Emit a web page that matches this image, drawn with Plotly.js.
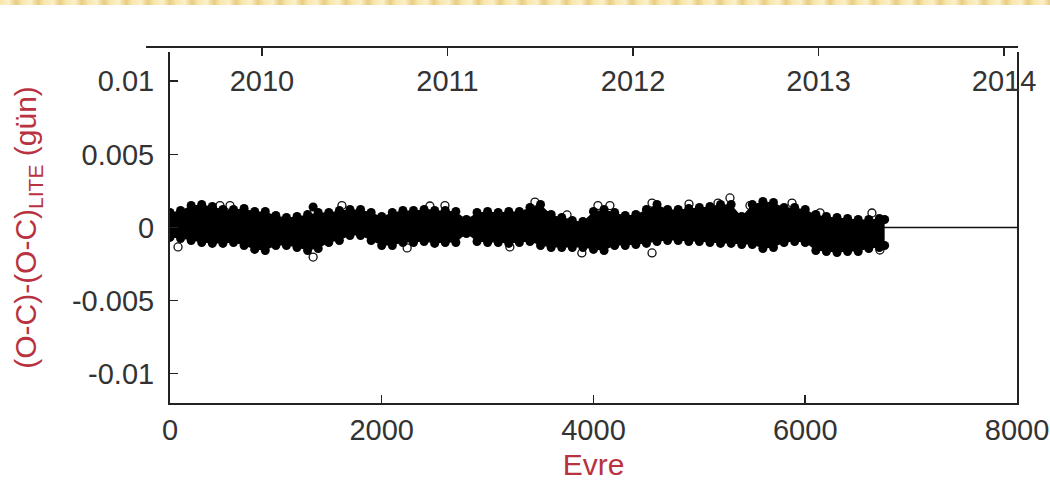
<!DOCTYPE html>
<html>
<head>
<meta charset="utf-8">
<script src="https://cdn.plot.ly/plotly-3.0.1.min.js"></script>
<style>
  html, body { margin: 0; padding: 0; background: #ffffff; }
  #band { position: absolute; left: 0; top: 0; width: 1050px; height: 5px; z-index: 5;
    background: repeating-linear-gradient(90deg, #f7e6ad 0px, #fbf0c8 9px, #e9cc82 16px, #f7e6ad 22px); }
  #chart { width: 1050px; height: 485px; }
</style>
</head>
<body>
<div id="band"></div>
<div id="chart"></div>
<script>
// Epoch grid along the band (cycles)
const epochs = [0,100,200,300,400,500,600,700,800,900,
  1000,1100,1200,1300,1400,1500,1600,1700,1800,1900,
  2000,2100,2200,2300,2400,2500,2600,2700,2800,2900,
  3000,3100,3200,3300,3400,3500,3600,3700,3800,3900,
  4000,4100,4200,4300,4400,4500,4600,4700,4800,4900,
  5000,5100,5200,5300,5400,5500,5600,5700,5800,5900,
  6000,6100,6200,6300,6400,6500,6600,6700,6750];
// Upper edge of the residual cloud (days)
const upperOC = [0.00103,0.00116,0.00150,0.00157,0.00144,0.00123,0.00123,0.00130,0.00109,0.00109,
  0.00082,0.00068,0.00075,0.00089,0.00103,0.00103,0.00116,0.00123,0.00123,0.00103,
  0.00075,0.00103,0.00116,0.00116,0.00123,0.00116,0.00116,0.00109,0.00055,0.00103,
  0.00109,0.00103,0.00109,0.00109,0.00137,0.00157,0.00089,0.00068,0.00048,0.00041,
  0.00109,0.00123,0.00103,0.00082,0.00089,0.00123,0.00157,0.00123,0.00123,0.00130,
  0.00137,0.00144,0.00157,0.00157,0.00075,0.00157,0.00178,0.00171,0.00137,0.00137,
  0.00123,0.00089,0.00075,0.00068,0.00062,0.00055,0.00055,0.00062,0.00055];
// Lower edge of the residual cloud (days)
const lowerOC = [-0.00068,-0.00075,-0.00089,-0.00103,-0.00109,-0.00109,-0.00103,-0.00123,-0.00150,-0.00157,
  -0.00123,-0.00123,-0.00137,-0.00157,-0.00144,-0.00103,-0.00089,-0.00055,-0.00055,-0.00089,
  -0.00123,-0.00123,-0.00103,-0.00103,-0.00096,-0.00109,-0.00103,-0.00103,-0.00041,-0.00096,
  -0.00103,-0.00103,-0.00109,-0.00103,-0.00096,-0.00123,-0.00137,-0.00137,-0.00137,-0.00137,
  -0.00150,-0.00157,-0.00123,-0.00123,-0.00116,-0.00109,-0.00096,-0.00089,-0.00089,-0.00096,
  -0.00096,-0.00103,-0.00109,-0.00109,-0.00116,-0.00116,-0.00144,-0.00137,-0.00103,-0.00096,
  -0.00103,-0.00157,-0.00164,-0.00171,-0.00164,-0.00164,-0.00144,-0.00137,-0.00123];
// Isolated filled minima
const extraE = [1352];
const extraOC = [0.0014];
// Open-circle minima standing out of the cloud
const openE = [76,472,567,1352,1624,2240,2455,2597,3210,3447,3750,3890,4042,4155,4553,4553,4902,5176,5289,5478,5875,6140,6630,6705];
const openOC = [-0.00133,0.0015,0.0015,-0.00202,0.0015,-0.0014,0.00147,0.0015,-0.00133,0.00174,0.00086,-0.00174,0.0015,0.0015,0.00167,-0.00174,0.0016,0.00167,0.00202,0.0015,0.00167,0.0010,0.00099,-0.00154];
// Zero (LITE-removed) reference line
const lineE = [0, 8000];
const lineOC = [0, 0];
// Axis ticks
const xTicks = [0, 2000, 4000, 6000, 8000];
const xTickText = ['0', '2000', '4000', '6000', '8000'];
const yTicks = [-0.01, -0.005, 0, 0.005, 0.01];
const yTickText = ['-0.01', '-0.005', '0', '0.005', '0.01'];
const years = [2010, 2011, 2012, 2013, 2014];
const yearText = ['2010', '2011', '2012', '2013', '2014'];

const FONT = 'Liberation Sans, Arial, sans-serif';
const RED = '#b8323f';
const TICKFONT = { family: FONT, size: 29, color: '#333' };

const bandX = epochs.concat(epochs.slice().reverse());
const bandY = upperOC.concat(lowerOC.slice().reverse());

const traces = [
  { x: lineE, y: lineOC, mode: 'lines', line: { color: '#111', width: 1.6 }, hoverinfo: 'skip', showlegend: false },
  { x: openE, y: openOC, mode: 'markers', marker: { symbol: 'circle-open', size: 8, color: '#111', line: { width: 1.3, color: '#111' } }, showlegend: false },
  { x: bandX, y: bandY, mode: 'lines', fill: 'toself', fillcolor: '#000', line: { width: 0, color: '#000' }, hoverinfo: 'skip', showlegend: false },
  { x: epochs, y: upperOC, mode: 'markers', marker: { symbol: 'circle', size: 9, color: '#000' }, showlegend: false },
  { x: epochs, y: lowerOC, mode: 'markers', marker: { symbol: 'circle', size: 9, color: '#000' }, showlegend: false },
  { x: extraE, y: extraOC, mode: 'markers', marker: { symbol: 'circle', size: 9, color: '#000' }, showlegend: false },
  { x: years, y: years.map(() => null), xaxis: 'x2', yaxis: 'y', mode: 'markers', hoverinfo: 'skip', showlegend: false }
];

const layout = {
  width: 1050, height: 485,
  margin: { l: 146, r: 32, t: 47, b: 82 },
  paper_bgcolor: 'rgba(0,0,0,0)',
  plot_bgcolor: 'rgba(0,0,0,0)',
  font: { family: FONT, size: 29, color: '#333' },
  showlegend: false,
  xaxis: {
    domain: [0.0275, 0.99885], range: [0, 8000],
    tickmode: 'array', tickvals: xTicks, ticktext: xTickText,
    ticks: 'inside', ticklen: 8, tickwidth: 1.5, tickcolor: '#222',
    showline: true, linecolor: '#222', linewidth: 2,
    showgrid: false, zeroline: false, ticklabelstandoff: 0,
    tickfont: TICKFONT,
    title: { text: 'Evre', font: { family: FONT, size: 30, color: RED }, standoff: 9 }
  },
  xaxis2: {
    domain: [0, 1], range: [2009.375, 2014.075], anchor: 'free', position: 1, side: 'bottom',
    tickmode: 'array', tickvals: years, ticktext: yearText,
    ticks: 'outside', ticklen: 8, tickwidth: 1.5, tickcolor: '#222',
    ticklabelstandoff: 0,
    showline: true, linecolor: '#222', linewidth: 2,
    showgrid: false, zeroline: false,
    tickfont: TICKFONT
  },
  yaxis: {
    domain: [0, 0.986], range: [-0.012, 0.012], anchor: 'x',
    tickmode: 'array', tickvals: yTicks, ticktext: yTickText,
    ticks: 'inside', ticklen: 8, tickwidth: 1.5, tickcolor: '#222',
    showline: true, linecolor: '#222', linewidth: 2, mirror: true,
    showgrid: false, zeroline: false, ticklabelstandoff: 8,
    tickfont: TICKFONT,
    title: { text: '(O-C)-(O-C)<sub>LITE</sub> (gün)', font: { family: FONT, size: 30, color: RED }, standoff: 26 }
  }
};

Plotly.newPlot('chart', traces, layout, { displayModeBar: false, staticPlot: true });
</script>
</body>
</html>
